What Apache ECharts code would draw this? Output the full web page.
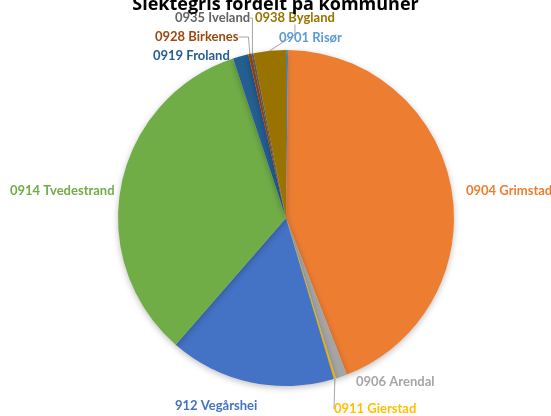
<!DOCTYPE html>
<html>
<head>
<meta charset="utf-8">
<script src="https://cdn.jsdelivr.net/npm/echarts@6/dist/echarts.min.js"></script>
<style>
html, body { margin: 0; padding: 0; background: #fff; }
#chart { width: 551px; height: 416px; }
</style>
</head>
<body>
<div id="chart"></div>
<script>
// data (share of total, per mille)
var kommuner = ['0901 Risør', '0904 Grimstad', '0906 Arendal', '0911 Gierstad', '912 Vegårshei',
                '0914 Tvedestrand', '0919 Froland', '0928 Birkenes', '0935 Iveland', '0938 Bygland'];
var antall = [2, 439, 11, 2, 160, 335, 15, 3, 2, 31];

var colors = ['#5B9BD5', '#ED7D31', '#A5A5A5', '#FFC000', '#4472C4',
              '#70AD47', '#255E91', '#9E480E', '#636363', '#997300'];
// left edge / middle of each label, and whether it gets a leader line
var labelPos = [[279, 38], [466, 191], [356, 382], [334, 409], [175, 406],
                [10, 191], [153, 56], [155, 37], [175, 18], [255, 18]];
var withLine = [false, false, false, true, false, false, false, true, true, true];

var myChart = echarts.init(document.getElementById('chart'));
myChart.setOption({
    animation: false,
    title: {
        text: 'Slektegris fordelt på kommuner',
        left: 'center',
        top: -9,
        textStyle: {
            fontFamily: 'Open Sans',
            fontSize: 18,
            fontWeight: 'bold',
            color: '#000'
        }
    },
    color: colors,
    series: [{
        type: 'pie',
        center: [286, 218],
        radius: 168,
        startAngle: 90,
        clockwise: true,
        itemStyle: {
            shadowBlur: 6,
            shadowOffsetY: 2,
            shadowColor: 'rgba(0,0,0,0.25)'
        },
        label: {
            show: true,
            position: 'outside',
            formatter: '{b}',
            fontFamily: 'Lato',
            fontSize: 13,
            fontWeight: 'bold',
            overflow: 'none',
            width: 200
        },
        labelLine: {
            show: true,
            length: 10,
            length2: 10,
            lineStyle: { color: '#a6a6a6', width: 1 }
        },
        labelLayout: function (p) {
            var pos = labelPos[p.dataIndex];
            return { x: pos[0], y: pos[1], align: 'left', verticalAlign: 'middle' };
        },
        data: kommuner.map(function (k, i) {
            return {
                name: k,
                value: antall[i],
                label: { color: colors[i] },
                labelLine: { show: withLine[i] }
            };
        })
    }]
});
</script>
</body>
</html>
